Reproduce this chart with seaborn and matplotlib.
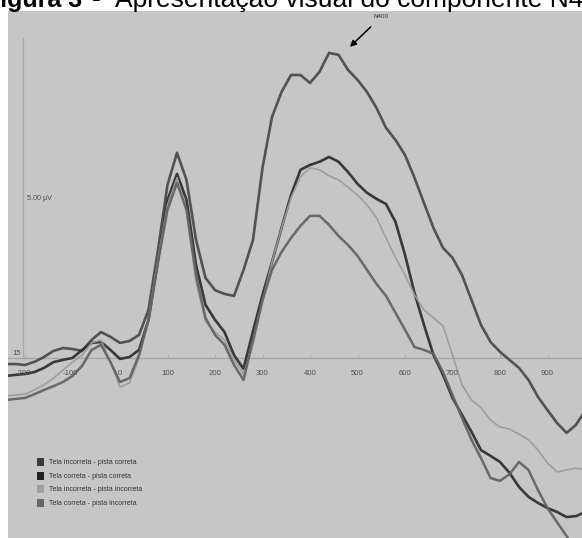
import matplotlib
matplotlib.use("Agg")
import matplotlib.pyplot as plt
from matplotlib.patches import Patch
import seaborn as sns
import pandas as pd

# ---- data (ms, µV) ----
time_ms = [-240, -220, -200, -180, -160, -140, -120, -100, -80, -60, -40, -20,
           0, 20, 40, 60, 80, 100, 120, 140, 160, 180, 200, 220, 240, 260, 280,
           300, 320, 340, 360, 380, 400, 420, 440, 460, 480, 500, 520, 540, 560,
           580, 600, 620, 640, 660, 680, 700, 720, 740, 760, 780, 800, 820, 840,
           860, 880, 900, 920, 940, 960, 980]

inc_correta = [-0.19, -0.19, -0.22, -0.12, 0.03, 0.22, 0.31, 0.28, 0.22, 0.56, 0.81, 0.66,
               0.47, 0.53, 0.72, 1.50, 3.38, 5.41, 6.41, 5.56, 3.69, 2.50, 2.12, 2.00, 1.94,
               2.75, 3.69, 5.94, 7.53, 8.31, 8.84, 8.84, 8.59, 8.94, 9.53, 9.47, 9.00, 8.69,
               8.31, 7.81, 7.19, 6.81, 6.34, 5.63, 4.84, 4.06, 3.44, 3.13, 2.59, 1.81, 1.03,
               0.50, 0.19, -0.06, -0.31, -0.69, -1.22, -1.63, -2.03, -2.34, -2.09, -1.63]

cor_correta = [-0.56, -0.53, -0.50, -0.44, -0.31, -0.13, -0.06, 0.00, 0.25, 0.47, 0.50, 0.25,
               -0.03, 0.03, 0.25, 1.19, 3.06, 4.94, 5.75, 4.94, 2.91, 1.66, 1.19, 0.81, 0.09,
               -0.34, 0.84, 1.97, 3.00, 4.06, 5.09, 5.88, 6.03, 6.13, 6.28, 6.13, 5.81, 5.44,
               5.16, 4.97, 4.81, 4.25, 3.22, 2.03, 1.03, 0.09, -0.53, -1.25, -1.78, -2.31,
               -2.88, -3.06, -3.25, -3.59, -4.03, -4.34, -4.53, -4.69, -4.81, -4.97, -4.94, -4.81]

inc_incorreta = [-1.19, -1.16, -1.13, -1.00, -0.84, -0.63, -0.38, -0.13, 0.09, 0.47, 0.56, -0.13,
                 -0.91, -0.78, 0.00, 1.25, 3.13, 4.78, 5.63, 4.56, 2.38, 1.13, 0.81, 0.56, -0.06,
                 -0.50, 0.41, 1.75, 3.00, 4.06, 5.00, 5.66, 5.94, 5.88, 5.69, 5.56, 5.34, 5.09,
                 4.78, 4.38, 3.75, 3.13, 2.59, 1.97, 1.50, 1.25, 1.00, 0.09, -0.84, -1.31,
                 -1.56, -1.94, -2.16, -2.22, -2.38, -2.56, -2.88, -3.28, -3.56, -3.50, -3.44, -3.50]

cor_incorreta = [-1.31, -1.28, -1.25, -1.13, -1.00, -0.88, -0.75, -0.56, -0.25, 0.25, 0.41, -0.13,
                 -0.75, -0.63, 0.09, 1.19, 3.00, 4.63, 5.47, 4.63, 2.59, 1.25, 0.72, 0.41, -0.22,
                 -0.69, 0.56, 1.81, 2.75, 3.31, 3.75, 4.13, 4.44, 4.44, 4.16, 3.81, 3.53, 3.19,
                 2.75, 2.31, 1.94, 1.41, 0.88, 0.34, 0.25, 0.13, -0.44, -1.16, -1.88, -2.56,
                 -3.13, -3.75, -3.84, -3.63, -3.25, -3.50, -4.13, -4.69, -5.13, -5.56, -6.00, -6.38]

conditions = ["Tela incorreta - pista correta", "Tela correta - pista correta",
              "Tela incorreta - pista incorreta", "Tela correta - pista incorreta"]
series = [inc_correta, cor_correta, inc_incorreta, cor_incorreta]
colors = ["#4c4c4c", "#313131", "#9c9c9c", "#646464"]
legend_colors = ["#3c3c3c", "#232323", "#a2a2a2", "#666666"]
widths = [1.9, 1.9, 1.2, 1.8]

xtick_values = [-200, -100, 0, 100, 200, 300, 400, 500, 600, 700, 800, 900]
title_bold = "Figura 3"
title_rest = "Apresentação visual do componente N400"

df = pd.DataFrame({
    "t": time_ms * len(conditions),
    "v": sum(series, []),
    "cond": sum([[c] * len(time_ms) for c in conditions], []),
})

# ---- figure ----
W, H = 582, 538
fig = plt.figure(figsize=(W / 100, H / 100), dpi=100, facecolor="white")
plt.rcParams["font.family"] = ["Liberation Sans", "DejaVu Sans"]

ax = fig.add_axes([8 / W, 0, 574 / W, 527 / H])
ax.set_facecolor("#c6c6c6")
for s in ax.spines.values():
    s.set_visible(False)
ax.set_xticks([])
ax.set_yticks([])

# zero line and y axis
ax.axhline(0, color="#a6a6a6", lw=0.9, zorder=1)
ymin, ymax = -5.625, 10.84
ax.set_xlim(-235.8, 972.6)
ax.set_ylim(ymin, ymax)
ax.axvline(-205, ymin=(0 - ymin) / (ymax - ymin), ymax=(10.0 - ymin) / (ymax - ymin),
           color="#a9a9a9", lw=0.9, zorder=1)

for cond, col, lw in zip(conditions, colors, widths):
    sub = df[df["cond"] == cond]
    sns.lineplot(data=sub, x="t", y="v", ax=ax, color=col, lw=lw, zorder=3,
                 legend=False, errorbar=None, solid_joinstyle="round",
                 solid_capstyle="round", alpha=0.95)
ax.set_xlabel("")
ax.set_ylabel("")

# x tick labels and small tick marks
for t in xtick_values:
    ax.text(t - 4 if t < 0 else t, -0.47, str(t), ha="center", va="center",
            fontsize=5.6, color="#505050")
    ax.plot([t, t], [0, 0.08], color="#a6a6a6", lw=0.6, zorder=1)

ax.text(-218, 0.04, "15", ha="center", va="bottom", fontsize=5.6, color="#505050")
ax.text(-195, 4.97, "5.00 µV", ha="left", va="center", fontsize=5.2, color="#505050")

# N400 annotation
ax.annotate("N400", xy=(484, 9.72), xytext=(550, 10.66), fontsize=4.5, color="#333333",
            ha="center", va="center",
            arrowprops=dict(arrowstyle="-|>", color="black", lw=1.1,
                            shrinkA=5, shrinkB=0, mutation_scale=9))

# legend
handles = [Patch(facecolor=c, edgecolor="none") for c in legend_colors]
ax.legend(handles, conditions, loc="upper left", bbox_to_anchor=(37 / W, 1 - 458 / H),
          bbox_transform=fig.transFigure, frameon=False, fontsize=5, labelcolor="#333333",
          handlelength=1.0, handleheight=1.4, handletextpad=0.7, labelspacing=0.75,
          borderpad=0, borderaxespad=0)

# title (cut at the top like the reference)
fig.text(82 / W, 1 - 7 / H, title_bold, ha="right", va="baseline", fontsize=18,
         fontweight="bold", color="black")
fig.text(92 / W, 1 - 7 / H, "-", ha="left", va="baseline", fontsize=19, color="black")
fig.text(115 / W, 1 - 7 / H, title_rest, ha="left", va="baseline", fontsize=19, color="black")

fig.savefig("out.png", dpi=100, facecolor="white")
